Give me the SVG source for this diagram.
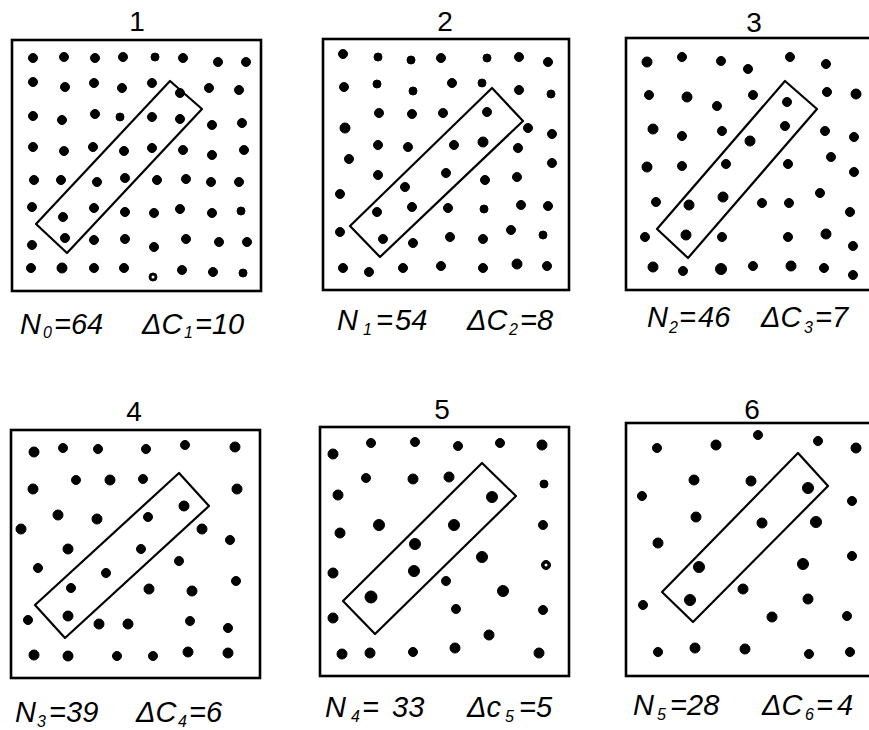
<svg xmlns="http://www.w3.org/2000/svg" width="869" height="730" viewBox="0 0 869 730">
<style>
.frame{fill:none;stroke:#000;stroke-width:2.6}
.sel{fill:none;stroke:#000;stroke-width:2.2;stroke-linejoin:round}
.d circle{fill:#000;stroke:#000;stroke-width:1}
.d circle.h{fill:#fff;stroke:none}
.title{font-family:"Liberation Sans",Arial,sans-serif;font-size:28px;text-anchor:middle;fill:#000}
.lbl{font-family:"Liberation Sans",Arial,sans-serif;font-style:italic;font-size:29px;fill:#000}
.sub{font-size:16px}
</style>
<rect width="869" height="730" fill="#fff"/>

<g id="panel1">
<text class="title" x="137" y="31">1</text>
<rect class="frame" x="12" y="40" width="249" height="251"/>
<g class="d">
<circle cx="33" cy="58" r="4.5"/><circle cx="64" cy="57" r="4.5"/><circle cx="95" cy="58" r="4.5"/><circle cx="123" cy="57" r="4.5"/><circle cx="155" cy="57" r="4"/><circle cx="183" cy="58" r="4.5"/><circle cx="218" cy="62" r="4.5"/><circle cx="246" cy="62" r="4.5"/>
<circle cx="33" cy="82" r="4.5"/><circle cx="65" cy="87" r="4.5"/><circle cx="94" cy="83" r="4.5"/><circle cx="122" cy="88" r="4.5"/><circle cx="152" cy="83" r="4.5"/><circle cx="180" cy="93" r="4.5"/><circle cx="209" cy="88" r="4.5"/><circle cx="239" cy="90" r="4.5"/>
<circle cx="33" cy="116" r="4.5"/><circle cx="62" cy="120" r="4.5"/><circle cx="95" cy="114" r="4.5"/><circle cx="120" cy="117" r="4"/><circle cx="152" cy="117" r="4.5"/><circle cx="180" cy="119" r="4.5"/><circle cx="212" cy="125" r="4.5"/><circle cx="242" cy="123" r="4.5"/>
<circle cx="33" cy="147" r="4.5"/><circle cx="64" cy="151" r="4.5"/><circle cx="93" cy="147" r="4.5"/><circle cx="124" cy="151" r="4.5"/><circle cx="152" cy="148" r="4.5"/><circle cx="183" cy="150" r="4.5"/><circle cx="212" cy="155" r="4.5"/><circle cx="244" cy="150" r="4.5"/>
<circle cx="34" cy="180" r="4.5"/><circle cx="61" cy="180" r="4.5"/><circle cx="97" cy="182" r="4.5"/><circle cx="125" cy="178" r="4.5"/><circle cx="157" cy="180" r="4.5"/><circle cx="186" cy="179" r="4.5"/><circle cx="211" cy="182" r="4.5"/><circle cx="239" cy="182" r="4.5"/>
<circle cx="32" cy="207" r="4.5"/><circle cx="63" cy="217" r="4.5"/><circle cx="94" cy="208" r="4.5"/><circle cx="125" cy="212" r="4.5"/><circle cx="154" cy="213" r="4.5"/><circle cx="180" cy="209" r="4.5"/><circle cx="212" cy="213" r="4.5"/><circle cx="241" cy="211" r="4"/>
<circle cx="32" cy="245" r="4.5"/><circle cx="65" cy="238" r="4.5"/><circle cx="94" cy="240" r="4.5"/><circle cx="125" cy="239" r="4.5"/><circle cx="154" cy="247" r="4.5"/><circle cx="186" cy="239" r="4.5"/><circle cx="219" cy="242" r="4.5"/><circle cx="247" cy="242" r="4.5"/>
<circle cx="31" cy="268" r="4.5"/><circle cx="62" cy="268" r="5"/><circle cx="94" cy="268" r="4.5"/><circle cx="124" cy="268" r="4.5"/><circle cx="153" cy="277" r="4"/><circle class="h" cx="153" cy="277" r="1.5"/><circle cx="182" cy="270" r="4.5"/><circle cx="213" cy="272" r="4.5"/><circle cx="243" cy="273" r="4"/>
</g>
<polygon class="sel" points="170,81 202,109 67,253 36,224"/>
<text class="lbl" x="20" y="334">N</text><text class="lbl sub" x="43" y="338">0</text><text class="lbl" x="54" y="334">=64</text>
<text class="lbl" x="142" y="334">ΔC</text><text class="lbl sub" x="184" y="338">1</text><text class="lbl" x="195" y="334">=10</text>
</g>

<g id="panel2">
<text class="title" x="445" y="31">2</text>
<rect class="frame" x="323" y="39" width="246" height="251"/>
<g class="d">
<circle cx="343" cy="54" r="4.5"/><circle cx="378" cy="57" r="4"/><circle cx="411" cy="60" r="4"/><circle cx="441" cy="58" r="4.5"/><circle cx="487" cy="58" r="4"/><circle cx="519" cy="57" r="4.5"/><circle cx="548" cy="62" r="4.5"/>
<circle cx="344" cy="87" r="4.5"/><circle cx="377" cy="84" r="4"/><circle cx="413" cy="91" r="4"/><circle cx="452" cy="83" r="4.5"/><circle cx="482" cy="83" r="4"/><circle cx="519" cy="90" r="4.5"/><circle cx="551" cy="94" r="4"/>
<circle cx="345" cy="128" r="5"/><circle cx="379" cy="113" r="4.5"/><circle cx="412" cy="114" r="4.5"/><circle cx="443" cy="113" r="4.5"/><circle cx="487" cy="112" r="4.5"/><circle cx="528" cy="128" r="4.5"/><circle cx="552" cy="134" r="4.5"/>
<circle cx="378" cy="145" r="4.5"/><circle cx="408" cy="147" r="4.5"/><circle cx="454" cy="145" r="4.5"/><circle cx="483" cy="142" r="5"/><circle cx="518" cy="148" r="4.5"/><circle cx="349" cy="159" r="4.5"/><circle cx="552" cy="163" r="4.5"/>
<circle cx="378" cy="175" r="4.5"/><circle cx="405" cy="187" r="4.5"/><circle cx="446" cy="173" r="4.5"/><circle cx="485" cy="180" r="4.5"/><circle cx="517" cy="177" r="4.5"/><circle cx="340" cy="194" r="4.5"/>
<circle cx="377" cy="212" r="4.5"/><circle cx="412" cy="207" r="4.5"/><circle cx="448" cy="208" r="4.5"/><circle cx="484" cy="209" r="4"/><circle cx="521" cy="205" r="4.5"/><circle cx="548" cy="206" r="4.5"/>
<circle cx="340" cy="232" r="4.5"/><circle cx="383" cy="239" r="4.5"/><circle cx="413" cy="243" r="4.5"/><circle cx="450" cy="237" r="4.5"/><circle cx="483" cy="239" r="4.5"/><circle cx="511" cy="230" r="4.5"/><circle cx="543" cy="235" r="4"/>
<circle cx="343" cy="268" r="4.5"/><circle cx="369" cy="272" r="4.5"/><circle cx="403" cy="268" r="4.5"/><circle cx="441" cy="266" r="4.5"/><circle cx="483" cy="268" r="4.5"/><circle cx="517" cy="264" r="5"/><circle cx="547" cy="266" r="4.5"/>
</g>
<polygon class="sel" points="492,88 523,121 380,257 350,226"/>
<text class="lbl" x="337" y="330">N</text><text class="lbl sub" x="363" y="335">1</text><text class="lbl" x="376" y="330">=</text><text class="lbl" x="395" y="330">54</text>
<text class="lbl" x="467" y="330">ΔC</text><text class="lbl sub" x="509" y="335">2</text><text class="lbl" x="520" y="330">=8</text>
</g>

<g id="panel3">
<text class="title" x="754" y="32">3</text>
<rect class="frame" x="626" y="38" width="252" height="252"/>
<g class="d">
<circle cx="647" cy="62" r="5"/><circle cx="682" cy="57" r="4.5"/><circle cx="721" cy="61" r="4.5"/><circle cx="748" cy="69" r="4.5"/><circle cx="790" cy="57" r="4.5"/><circle cx="826" cy="64" r="4.5"/>
<circle cx="649" cy="95" r="4.5"/><circle cx="687" cy="97" r="5"/><circle cx="717" cy="106" r="4.5"/><circle cx="753" cy="95" r="4.5"/><circle cx="787" cy="102" r="4.5"/><circle cx="827" cy="92" r="4.5"/><circle cx="856" cy="94" r="5"/>
<circle cx="653" cy="129" r="5"/><circle cx="682" cy="136" r="4.5"/><circle cx="722" cy="131" r="4.5"/><circle cx="750" cy="141" r="5"/><circle cx="785" cy="126" r="4.5"/><circle cx="825" cy="131" r="4.5"/><circle cx="854" cy="137" r="4.5"/>
<circle cx="647" cy="167" r="5"/><circle cx="682" cy="166" r="4.5"/><circle cx="726" cy="164" r="4.5"/><circle cx="788" cy="164" r="4.5"/><circle cx="831" cy="157" r="4.5"/><circle cx="854" cy="172" r="4.5"/>
<circle cx="656" cy="202" r="4.5"/><circle cx="689" cy="205" r="5"/><circle cx="723" cy="197" r="5"/><circle cx="762" cy="203" r="4.5"/><circle cx="789" cy="203" r="4.5"/><circle cx="820" cy="193" r="4.5"/><circle cx="850" cy="212" r="4.5"/>
<circle cx="645" cy="237" r="4.5"/><circle cx="686" cy="235" r="5"/><circle cx="722" cy="237" r="4.5"/><circle cx="788" cy="237" r="4.5"/><circle cx="826" cy="234" r="5"/><circle cx="853" cy="246" r="4.5"/>
<circle cx="653" cy="267" r="5"/><circle cx="683" cy="271" r="4.5"/><circle cx="721" cy="269" r="5.5"/><circle cx="753" cy="266" r="4.5"/><circle cx="791" cy="266" r="5"/><circle cx="824" cy="268" r="4.5"/><circle cx="853" cy="275" r="4.5"/>
</g>
<polygon class="sel" points="785,81 817,109 688,258 657,229"/>
<text class="lbl" x="647" y="327">N</text><text class="lbl sub" x="669" y="333">2</text><text class="lbl" x="679" y="327">=</text><text class="lbl" x="698" y="327">46</text>
<text class="lbl" x="761" y="327">ΔC</text><text class="lbl sub" x="804" y="333">3</text><text class="lbl" x="815" y="327">=7</text>
</g>

<g id="panel4">
<text class="title" x="134" y="421">4</text>
<rect class="frame" x="11" y="430" width="249" height="248"/>
<g class="d">
<circle cx="34" cy="452" r="5"/><circle cx="63" cy="448" r="4.5"/><circle cx="98" cy="449" r="4.5"/><circle cx="146" cy="449" r="4.5"/><circle cx="185" cy="445" r="4.5"/><circle cx="235" cy="447" r="5"/>
<circle cx="33" cy="489" r="5"/><circle cx="76" cy="480" r="4.5"/><circle cx="110" cy="480" r="5"/><circle cx="143" cy="479" r="4.5"/><circle cx="237" cy="489" r="5"/>
<circle cx="58" cy="515" r="5"/><circle cx="97" cy="519" r="5"/><circle cx="148" cy="517" r="4.5"/><circle cx="184" cy="506" r="5"/><circle cx="21" cy="529" r="5"/><circle cx="202" cy="529" r="5"/><circle cx="230" cy="540" r="4.5"/>
<circle cx="68" cy="549" r="5"/><circle cx="141" cy="549" r="4.5"/><circle cx="179" cy="561" r="4.5"/><circle cx="38" cy="568" r="4.5"/><circle cx="106" cy="573" r="4.5"/><circle cx="236" cy="581" r="4.5"/>
<circle cx="71" cy="588" r="4.5"/><circle cx="149" cy="589" r="5"/><circle cx="192" cy="591" r="5"/>
<circle cx="28" cy="620" r="4.5"/><circle cx="68" cy="616" r="5"/><circle cx="99" cy="624" r="5"/><circle cx="128" cy="624" r="5"/><circle cx="190" cy="621" r="4.5"/><circle cx="228" cy="628" r="4.5"/>
<circle cx="34" cy="655" r="5"/><circle cx="68" cy="656" r="5"/><circle cx="117" cy="656" r="4.5"/><circle cx="153" cy="656" r="4.5"/><circle cx="188" cy="652" r="5"/><circle cx="228" cy="653" r="5"/>
</g>
<polygon class="sel" points="179,473 209,506 65,638 35,605"/>
<text class="lbl" x="15" y="722">N</text><text class="lbl sub" x="37" y="727">3</text><text class="lbl" x="49" y="722">=</text><text class="lbl" x="66" y="722">39</text>
<text class="lbl" x="136" y="722">ΔC</text><text class="lbl sub" x="178" y="727">4</text><text class="lbl" x="189" y="722">=6</text>
</g>

<g id="panel5">
<text class="title" x="442" y="419">5</text>
<rect class="frame" x="320" y="427" width="249" height="249"/>
<g class="d">
<circle cx="333" cy="454" r="5"/><circle cx="371" cy="443" r="4.5"/><circle cx="415" cy="442" r="4.5"/><circle cx="458" cy="446" r="4.5"/><circle cx="500" cy="443" r="4.5"/><circle cx="542" cy="445" r="5"/>
<circle cx="366" cy="478" r="4.5"/><circle cx="413" cy="479" r="5"/><circle cx="449" cy="477" r="5"/><circle cx="544" cy="484" r="4"/>
<circle cx="338" cy="495" r="5"/><circle cx="492" cy="497" r="5.5"/>
<circle cx="340" cy="533" r="5"/><circle cx="379" cy="525" r="5.5"/><circle cx="454" cy="525" r="5.5"/><circle cx="543" cy="525" r="4.5"/>
<circle cx="415" cy="544" r="5.5"/><circle cx="482" cy="557" r="5.5"/><circle cx="546" cy="565" r="4.5"/><circle class="h" cx="546" cy="565" r="1.5"/><circle cx="333" cy="573" r="5"/><circle cx="414" cy="571" r="5.5"/>
<circle cx="446" cy="581" r="4.5"/><circle cx="371" cy="597" r="6"/><circle cx="503" cy="591" r="5.5"/>
<circle cx="333" cy="618" r="5"/><circle cx="456" cy="609" r="4.5"/><circle cx="543" cy="610" r="4.5"/>
<circle cx="489" cy="635" r="5"/>
<circle cx="342" cy="654" r="5"/><circle cx="370" cy="653" r="5"/><circle cx="413" cy="652" r="4.5"/><circle cx="455" cy="648" r="5"/><circle cx="539" cy="653" r="5"/>
</g>
<polygon class="sel" points="482,463 516,496 375,634 343,601"/>
<text class="lbl" x="325" y="717">N</text><text class="lbl sub" x="351" y="722">4</text><text class="lbl" x="362" y="717">=</text><text class="lbl" x="392" y="717">33</text>
<text class="lbl" x="467" y="717">Δc</text><text class="lbl sub" x="505" y="722">5</text><text class="lbl" x="519" y="717">=5</text>
</g>

<g id="panel6">
<text class="title" x="752" y="419">6</text>
<rect class="frame" x="626" y="423" width="252" height="253"/>
<g class="d">
<circle cx="657" cy="448" r="4.5"/><circle cx="716" cy="445" r="5"/><circle cx="758" cy="435" r="4.5"/><circle cx="818" cy="441" r="4.5"/><circle cx="856" cy="448" r="5"/>
<circle cx="694" cy="480" r="5"/><circle cx="751" cy="481" r="5"/><circle cx="808" cy="488" r="5.5"/><circle cx="642" cy="496" r="4.5"/><circle cx="852" cy="501" r="4.5"/>
<circle cx="696" cy="517" r="5"/><circle cx="762" cy="523" r="5"/><circle cx="816" cy="522" r="5.5"/><circle cx="658" cy="543" r="5"/><circle cx="852" cy="556" r="4.5"/>
<circle cx="699" cy="567" r="5.5"/><circle cx="803" cy="564" r="5.5"/>
<circle cx="743" cy="589" r="5"/><circle cx="808" cy="599" r="5"/><circle cx="643" cy="605" r="4.5"/><circle cx="690" cy="600" r="5.5"/><circle cx="772" cy="617" r="5"/><circle cx="847" cy="616" r="4.5"/>
<circle cx="658" cy="652" r="4.5"/><circle cx="695" cy="648" r="5"/><circle cx="745" cy="649" r="5"/><circle cx="809" cy="654" r="4.5"/><circle cx="850" cy="652" r="4.5"/>
</g>
<polygon class="sel" points="798,453 828,486 693,622 662,592"/>
<text class="lbl" x="633" y="715">N</text><text class="lbl sub" x="657" y="720">5</text><text class="lbl" x="670" y="715">=</text><text class="lbl" x="687" y="715">28</text>
<text class="lbl" x="762" y="715">ΔC</text><text class="lbl sub" x="805" y="720">6</text><text class="lbl" x="816" y="715">=</text><text class="lbl" x="837" y="715">4</text>
</g>

<g id="connectors"/>
</svg>
